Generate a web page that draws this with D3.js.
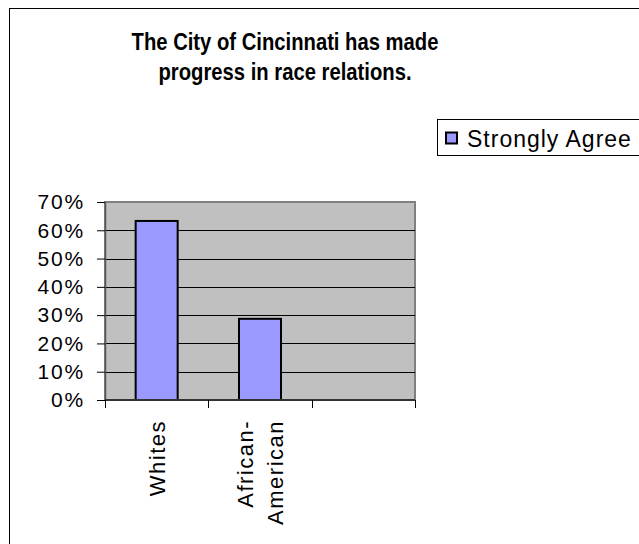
<!DOCTYPE html>
<html>
<head>
<meta charset="utf-8">
<script src="https://cdn.jsdelivr.net/npm/d3@7"></script>
<style>
  html, body { margin: 0; padding: 0; background: #fff; }
  svg { display: block; font-family: "Liberation Sans", Arial, sans-serif; }
</style>
</head>
<body>
<script>
// Survey question and responses
const titleLines = ["The City of Cincinnati has made", "progress in race relations."];
const categories = [["Whites"], ["African-", "American"], [""]];
const categoryKeys = ["Whites", "African-American", "blank"];
const values = [0.633, 0.287, null];
const seriesName = "Strongly Agree";
const yTicks = [0, 0.1, 0.2, 0.3, 0.4, 0.5, 0.6, 0.7];

const W = 639, H = 544;
const svg = d3.select("body").append("svg").attr("width", W).attr("height", H);

// outer chart frame (continues past the right and bottom edges)
svg.append("rect")
  .attr("x", 9.5).attr("y", 8.5)
  .attr("width", 700).attr("height", 600)
  .attr("fill", "#fff").attr("stroke", "#000").attr("stroke-width", 1);

// title: a tall, slightly condensed bold face
const titleCx = 285, titleScaleX = 0.88;
const title = svg.append("text")
  .attr("text-anchor", "middle")
  .attr("transform", `translate(${titleCx},0) scale(${titleScaleX},1)`)
  .attr("font-size", 23).attr("font-weight", "bold").attr("fill", "#000");
titleLines.forEach((t, i) => {
  title.append("tspan").attr("x", 0).attr("y", 50 + i * 30).text(t);
});

// plot area
const plot = { left: 105, top: 202, right: 415, bottom: 400 };
const x = d3.scaleBand().domain(categoryKeys)
  .range([plot.left, plot.right]).paddingInner(0).paddingOuter(0);
const y = d3.scaleLinear().domain([0, 0.7]).range([plot.bottom, plot.top]);

svg.append("rect")
  .attr("x", plot.left).attr("y", plot.top)
  .attr("width", plot.right - plot.left).attr("height", plot.bottom - plot.top)
  .attr("fill", "#c0c0c0").attr("stroke", "#808080").attr("stroke-width", 2);

// horizontal gridlines
svg.append("g").selectAll("line")
  .data(yTicks.filter(v => v > 0 && v < 0.7))
  .join("line")
  .attr("x1", plot.left).attr("x2", plot.right)
  .attr("y1", d => Math.round(y(d)) + 0.5).attr("y2", d => Math.round(y(d)) + 0.5)
  .attr("stroke", "#000").attr("stroke-width", 1);

// bars
const barW = 42;
svg.append("g").selectAll("rect")
  .data(values.map((v, i) => ({ k: categoryKeys[i], v })).filter(d => d.v != null))
  .join("rect")
  .attr("x", d => x(d.k) + (x.bandwidth() - barW) / 2)
  .attr("y", d => y(d.v))
  .attr("width", barW)
  .attr("height", d => y(0) - y(d.v))
  .attr("fill", "#9999ff").attr("stroke", "#000").attr("stroke-width", 2);

// y axis
const yAxis = d3.axisLeft(y).tickValues(yTicks)
  .tickFormat(d3.format(".0%")).tickSizeOuter(0).tickSizeInner(8).tickPadding(12);
const gy = svg.append("g").attr("transform", `translate(${plot.left},0)`).call(yAxis);
gy.select(".domain").attr("stroke", "#555").attr("stroke-width", 1.5);
gy.selectAll(".tick line").attr("stroke", "#000");
gy.selectAll(".tick text")
  .attr("font-size", 21).attr("letter-spacing", 1.8).attr("fill", "#000")
  .attr("font-family", "Liberation Sans, Arial, sans-serif");

// x axis: ticks on category boundaries
const xAxisG = svg.append("g").attr("transform", `translate(0,${plot.bottom})`);
xAxisG.append("line")
  .attr("x1", plot.left).attr("x2", plot.right)
  .attr("y1", 0).attr("y2", 0)
  .attr("stroke", "#333").attr("stroke-width", 2);
const bounds = categoryKeys.map(k => x(k)).concat([plot.right]);
xAxisG.selectAll(".xtick").data(bounds).join("line")
  .attr("class", "xtick")
  .attr("x1", d => Math.round(d) + 0.5).attr("x2", d => Math.round(d) + 0.5)
  .attr("y1", 0).attr("y2", 8)
  .attr("stroke", "#000");

// rotated category labels
categories.forEach((lines, i) => {
  const cx = x(categoryKeys[i]) + x.bandwidth() / 2;
  const n = lines.length;
  lines.forEach((t, j) => {
    const bx = cx + 8 + (j - (n - 1) / 2) * 30;
    svg.append("text")
      .attr("transform", `translate(${bx},${plot.bottom + 20}) rotate(-90)`)
      .attr("text-anchor", "end")
      .attr("font-size", 22).attr("letter-spacing", 1.5).attr("fill", "#000")
      .text(t);
  });
});

// legend
const lg = svg.append("g");
lg.append("rect")
  .attr("x", 437.5).attr("y", 119.5).attr("width", 260).attr("height", 36)
  .attr("fill", "#fff").attr("stroke", "#000").attr("stroke-width", 1);
lg.append("rect")
  .attr("x", 446).attr("y", 132.5).attr("width", 11).attr("height", 11)
  .attr("fill", "#9999ff").attr("stroke", "#000").attr("stroke-width", 2);
lg.append("text")
  .attr("x", 467).attr("y", 147)
  .attr("font-size", 23).attr("letter-spacing", 1).attr("fill", "#000")
  .text(seriesName);
</script>
</body>
</html>
